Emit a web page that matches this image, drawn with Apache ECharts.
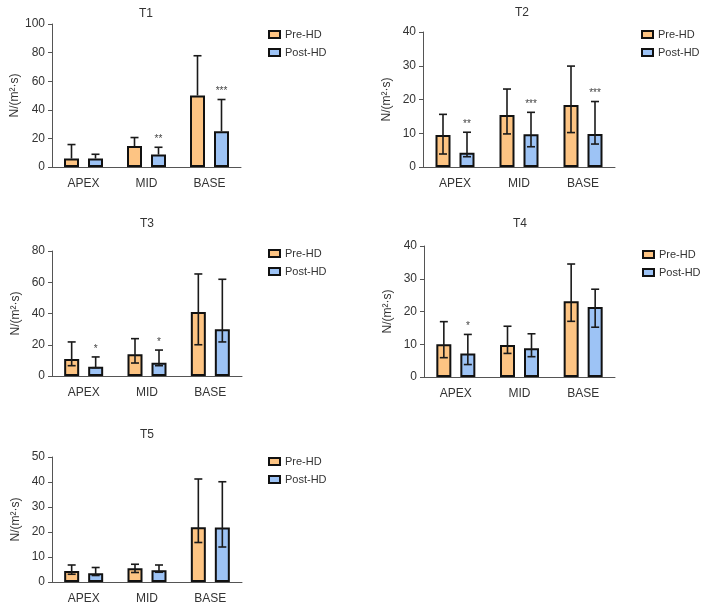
<!DOCTYPE html>
<html>
<head>
<meta charset="utf-8">
<script src="https://cdn.jsdelivr.net/npm/echarts@6/dist/echarts.min.js"></script>
<style>html,body{margin:0;padding:0;background:#fff}#c{width:709px;height:609px}</style>
</head>
<body>
<div id="c"></div>
<script>
const categories = ['APEX', 'MID', 'BASE'];
const seriesNames = ['Pre-HD', 'Post-HD'];
const panelTitles = ['T1', 'T2', 'T3', 'T4', 'T5'];
const yMax = [100, 40, 80, 40, 50];
const yInterval = [20, 10, 20, 10, 10];

// T1 (upper error bars only)
const t1PreMean = [5.9, 14.7, 50.0];
const t1PreLow = [null, null, null];
const t1PreHigh = [15.7, 20.6, 77.8];
const t1PostMean = [5.9, 8.7, 25.0];
const t1PostLow = [null, null, null];
const t1PostHigh = [8.9, 13.8, 47.2];
const t1Stars = ['', '**', '***'];

// T2
const t2PreMean = [9.5, 15.4, 18.4];
const t2PreLow = [3.85, 9.8, 10.2];
const t2PreHigh = [15.6, 23.1, 29.9];
const t2PostMean = [4.2, 9.7, 9.8];
const t2PostLow = [3.05, 6.0, 6.8];
const t2PostHigh = [10.3, 16.2, 19.4];
const t2Stars = ['**', '***', '***'];

// T3
const t3PreMean = [10.9, 13.9, 41.0];
const t3PreLow = [6.6, 8.3, 20.0];
const t3PreHigh = [21.8, 23.9, 65.3];
const t3PostMean = [6.0, 8.5, 30.0];
const t3PostLow = [5.3, 6.6, 21.8];
const t3PostHigh = [12.2, 16.6, 61.9];
const t3Stars = ['*', '*', ''];

// T4
const t4PreMean = [10.0, 9.8, 23.1];
const t4PreLow = [5.9, 7.2, 17.0];
const t4PreHigh = [16.9, 15.5, 34.5];
const t4PostMean = [7.2, 8.8, 21.4];
const t4PostLow = [3.8, 6.2, 15.2];
const t4PostHigh = [13.0, 13.2, 26.8];
const t4Stars = ['*', '', ''];

// T5
const t5PreMean = [4.4, 5.5, 21.9];
const t5PreLow = [3.1, 3.8, 15.8];
const t5PreHigh = [6.8, 7.1, 41.2];
const t5PostMean = [3.5, 4.7, 21.8];
const t5PostLow = [2.6, 3.9, 14.0];
const t5PostHigh = [5.8, 6.8, 40.1];
const t5Stars = ['', '', ''];

const panels = [
  {pre: [t1PreMean, t1PreLow, t1PreHigh], post: [t1PostMean, t1PostLow, t1PostHigh], stars: t1Stars},
  {pre: [t2PreMean, t2PreLow, t2PreHigh], post: [t2PostMean, t2PostLow, t2PostHigh], stars: t2Stars},
  {pre: [t3PreMean, t3PreLow, t3PreHigh], post: [t3PostMean, t3PostLow, t3PostHigh], stars: t3Stars},
  {pre: [t4PreMean, t4PreLow, t4PreHigh], post: [t4PostMean, t4PostLow, t4PostHigh], stars: t4Stars},
  {pre: [t5PreMean, t5PreLow, t5PreHigh], post: [t5PostMean, t5PostLow, t5PostHigh], stars: t5Stars}
];

// layout (styles/positions)
const grids = [
  {left: 52, top: 24, width: 189, height: 143},
  {left: 423, top: 32, width: 192, height: 135},
  {left: 52, top: 251, width: 190, height: 125},
  {left: 424, top: 246, width: 191, height: 131},
  {left: 52, top: 457, width: 190, height: 125}
];
const titlePos = [[141, 3], [517, 2], [142, 213], [515, 213], [142, 424]];
const legendPos = [[263, 24], [636, 24], [263, 243], [637, 244], [263, 451]];

const FONT = 'Liberation Sans, Arial, sans-serif';
const preColor = '#FDC483';
const postColor = '#9DC3F5';
const axisColor = '#555';
const OFFSET = 12;

const option = {
  animation: false,
  backgroundColor: '#fff',
  title: [], legend: [], grid: [], xAxis: [], yAxis: [], series: []
};

function errRender(sign, stars, lows, highs, means) {
  return function (params, api) {
    const i = params.dataIndex;
    const idx = api.value(0);
    const high = api.value(2);
    const hasLow = lows[i] !== null;
    const low = hasLow ? lows[i] : means[i];
    const pTop = api.coord([idx, high]);
    const pBot = api.coord([idx, low]);
    const x = pTop[0] + sign * OFFSET;
    const cap = 4;
    const st = {stroke: '#1a1a1a', lineWidth: 1.6};
    const children = [
      {type: 'line', shape: {x1: x, y1: pTop[1], x2: x, y2: pBot[1]}, style: st},
      {type: 'line', shape: {x1: x - cap, y1: pTop[1], x2: x + cap, y2: pTop[1]}, style: st}
    ];
    if (hasLow) {
      children.push({type: 'line', shape: {x1: x - cap, y1: pBot[1], x2: x + cap, y2: pBot[1]}, style: st});
    }
    if (stars && stars[i]) {
      children.push({type: 'text', style: {text: stars[i], x: x, y: pTop[1] - 3, align: 'center', verticalAlign: 'bottom', fontSize: 10, fontFamily: FONT, fill: '#444'}});
    }
    return {type: 'group', children: children};
  };
}

panels.forEach(function (p, k) {
  option.title.push({
    text: panelTitles[k], left: titlePos[k][0], top: titlePos[k][1], textAlign: 'center',
    textStyle: {fontSize: 12, fontWeight: 'normal', color: '#333', fontFamily: FONT}
  });
  option.legend.push({
    data: seriesNames, orient: 'vertical', left: legendPos[k][0], top: legendPos[k][1],
    icon: 'rect', itemWidth: 11, itemHeight: 7, itemGap: 7,
    textStyle: {fontSize: 11, color: '#333', fontFamily: FONT},
    selectedMode: false
  });
  option.grid.push(Object.assign({containLabel: false}, grids[k]));
  option.xAxis.push({
    type: 'category', gridIndex: k, data: categories,
    axisLine: {lineStyle: {color: axisColor, width: 1}},
    axisTick: {alignWithLabel: true, length: 4, lineStyle: {color: axisColor}},
    axisLabel: {fontSize: 12, color: '#333', fontFamily: FONT, margin: 11}
  });
  option.yAxis.push({
    type: 'value', gridIndex: k, min: 0, max: yMax[k], interval: yInterval[k],
    name: 'N/(m²·s)', nameLocation: 'middle', nameRotate: 90, nameGap: 30,
    nameTextStyle: {fontSize: 12, color: '#333', fontFamily: FONT},
    axisLine: {show: true, lineStyle: {color: axisColor, width: 1}},
    axisTick: {show: true, length: 4, lineStyle: {color: axisColor}},
    splitLine: {show: false},
    axisLabel: {fontSize: 12, color: '#333', fontFamily: FONT, margin: 7}
  });
  [[p.pre, preColor], [p.post, postColor]].forEach(function (s, j) {
    option.series.push({
      type: 'bar', name: seriesNames[j], xAxisIndex: k, yAxisIndex: k,
      data: s[0][0], barWidth: 15, barGap: '60%',
      itemStyle: {color: s[1], borderColor: '#111', borderWidth: 2}
    });
  });
  [[p.pre, -1, null], [p.post, 1, p.stars]].forEach(function (s) {
    const means = s[0][0], lows = s[0][1], highs = s[0][2];
    option.series.push({
      type: 'custom', xAxisIndex: k, yAxisIndex: k, z: 10,
      renderItem: errRender(s[1], s[2], lows, highs, means),
      data: categories.map(function (c, i) { return [i, lows[i] === null ? means[i] : lows[i], highs[i]]; }),
      encode: {x: 0, y: [1, 2]}
    });
  });
});

const chart = echarts.init(document.getElementById('c'), null, {renderer: 'canvas'});
chart.setOption(option);
</script>
</body>
</html>
